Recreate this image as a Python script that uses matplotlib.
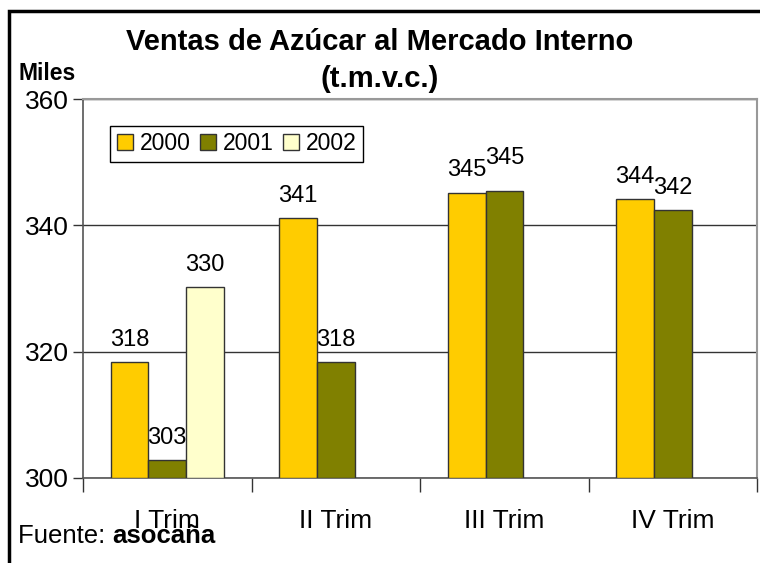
import matplotlib
matplotlib.use('Agg')
import matplotlib.pyplot as plt
from matplotlib.patches import Rectangle
import numpy as np

plt.rcParams['font.family'] = ['Liberation Sans', 'DejaVu Sans']

# data
categories = ['I Trim', 'II Trim', 'III Trim', 'IV Trim']
years = ['2000', '2001', '2002']
v2000 = [318.3, 341.1, 345.2, 344.2]
v2001 = [302.8, 318.3, 345.4, 342.4]
v2002 = [330.2, None, None, None]
colors = ['#FFCC00', '#808000', '#FFFFCC']

fig = plt.figure(figsize=(7.6, 5.63), dpi=100)
ax = fig.add_axes([0.1092, 0.151, 0.887, 0.673])

# outer chart frame (clipped on right and bottom)
fig.patches.append(Rectangle((9 / 760, -0.1), 1.2, 1 - 11 / 563 + 0.1,
                             transform=fig.transFigure, fill=False,
                             edgecolor='black', linewidth=2.5))

w = 0.223
x = np.arange(len(categories))
series = [v2000, v2001, v2002]
for k, vals in enumerate(series):
    for i, v in enumerate(vals):
        if v is None:
            continue
        xi = x[i] + (k - 1) * w
        ax.bar(xi, v - 300, width=w, bottom=300, color=colors[k],
               edgecolor='#333333', linewidth=1.0, zorder=3,
               label=years[k] if i == 0 else None)
        # excel pushed the crowded III Trim 2001 label up a bit
        dy = 16 if (k == 1 and i == 2) else 8
        ax.annotate('%d' % round(v), (xi, v), xytext=(0, dy),
                    textcoords='offset points', ha='center', va='bottom',
                    fontsize=17, zorder=4)

ax.set_xlim(-0.5, 3.5)
ax.set_ylim(300, 360)
ax.set_yticks([300, 320, 340, 360])
ax.tick_params(axis='y', labelsize=19, length=7, width=1, color='#333333', pad=3)
ax.set_xticks(x)
ax.set_xticklabels(categories)
ax.set_xticks([-0.5, 0.5, 1.5, 2.5, 3.5], minor=True)
ax.tick_params(axis='x', which='major', length=0, labelsize=19, pad=22)
ax.tick_params(axis='x', which='minor', length=10, width=1, color='#333333')

ax.yaxis.grid(True, color='#333333', linewidth=1)
ax.set_axisbelow(True)
for s in ['top', 'right']:
    ax.spines[s].set_color('#999999')
    ax.spines[s].set_linewidth(1.5)
for s in ['left', 'bottom']:
    ax.spines[s].set_color('#555555')
    ax.spines[s].set_linewidth(1.2)

leg = ax.legend(loc='upper left', bbox_to_anchor=(0.04, 0.93), ncol=3,
                fontsize=16.5, frameon=True, fancybox=False, framealpha=1,
                edgecolor='black', handlelength=0.7, handleheight=0.7,
                handletextpad=0.3, columnspacing=0.4, borderpad=0.3,
                borderaxespad=0)
leg.get_frame().set_linewidth(1.0)

fig.text(0.5, 1 - 42 / 563, 'Ventas de Azúcar al Mercado Interno',
         ha='center', va='center', fontsize=21, fontweight='bold')
fig.text(0.5, 1 - 79 / 563, '(t.m.v.c.)',
         ha='center', va='center', fontsize=21, fontweight='bold')
fig.text(18 / 760, 1 - 74 / 563, 'Miles', ha='left', va='center',
         fontsize=16.5, fontweight='bold')
t = fig.text(18 / 760, 1 - 536 / 563, 'Fuente: ', ha='left', va='center',
             fontsize=18.5)
fig.canvas.draw()
bb = t.get_window_extent()
fig.text(bb.x1 / 760, 1 - 536 / 563, 'asocaña', ha='left', va='center',
         fontsize=18.5, fontweight='bold')

fig.savefig('out.png', dpi=100)
